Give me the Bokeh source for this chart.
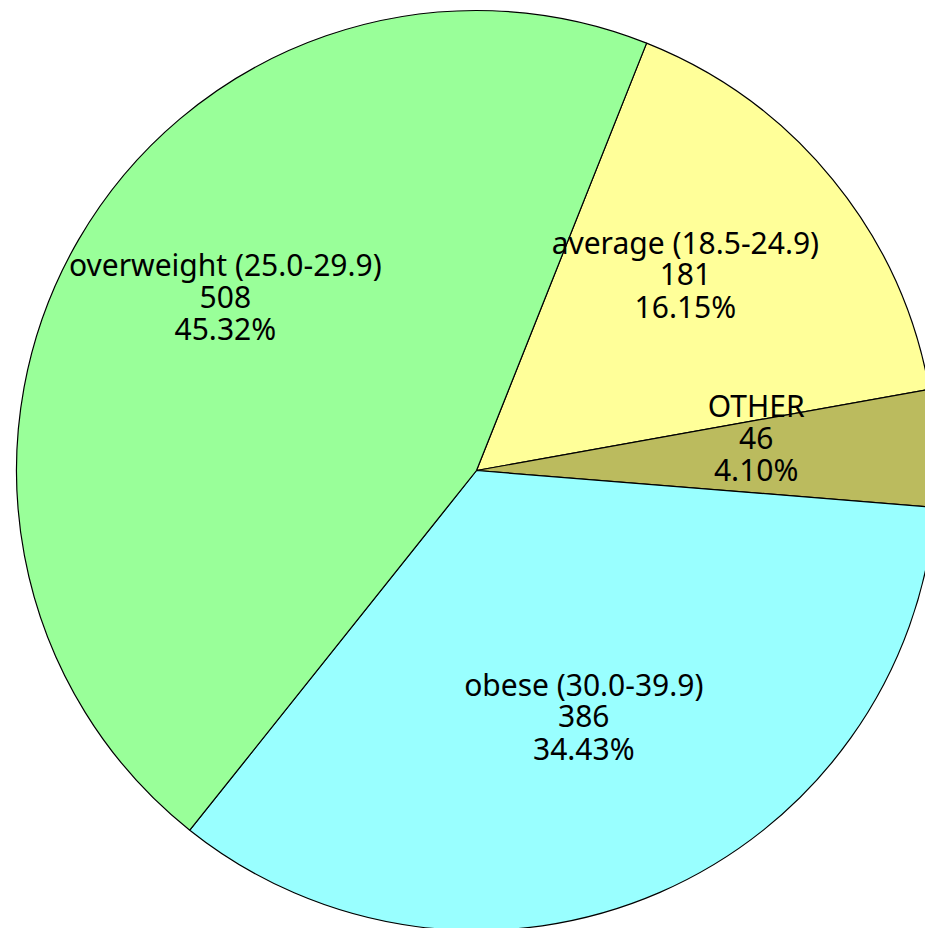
import math
from bokeh.plotting import figure
from bokeh.models import Range1d, ColumnDataSource
from bokeh.core.properties import value
from bokeh.embed import file_html
from bokeh.resources import INLINE

# ---- data ----
categories = ["average (18.5-24.9)", "OTHER", "obese (30.0-39.9)", "overweight (25.0-29.9)"]
counts = [181, 46, 386, 508]
colors = ["#FFFF99", "#BBBB5E", "#99FFFF", "#99FF99"]

# ---- layout / style ----
W, H = 925, 928
CX, CY = 476, H - 470          # pie centre in plot units (1 unit = 1 px)
R = 460
START_DEG = 68.3               # slices run clockwise from here
LABEL_R = 280
label_lift = [19, 19, 11, 33]  # per-slice vertical adjustment of label block (px)
label_shift = [-8, 0, -4, -9]  # per-slice horizontal adjustment of label block (px)
LINE_GAP = 32
FONT = "Noto Sans"
FONT_SIZE = "30px"

total = sum(counts)
starts, ends, mids = [], [], []
a = START_DEG
for c in counts:
    span = c / total * 360.0
    end = a
    start = a - span
    starts.append(math.radians(start))
    ends.append(math.radians(end))
    mids.append(math.radians((start + end) / 2))
    a = start

src = ColumnDataSource(dict(start=starts, end=ends, color=colors))

p = figure(width=W, height=H, output_backend="svg", toolbar_location=None,
           x_range=Range1d(0, W), y_range=Range1d(0, H), min_border=0)
p.axis.visible = False
p.grid.visible = False
p.outline_line_color = None
p.background_fill_color = "white"
p.border_fill_color = "white"

p.wedge(x=CX, y=CY, radius=R, start_angle="start", end_angle="end", source=src,
        fill_color="color", line_color="black", line_width=1.2)

xs, ys, txt = [], [], []
for cat, c, m, lift, shift in zip(categories, counts, mids, label_lift, label_shift):
    lx = CX + LABEL_R * math.cos(m) + shift
    ly = CY + LABEL_R * math.sin(m) + lift
    lines = [cat, str(c), f"{c / total * 100:.2f}%"]
    for i, t in enumerate(lines):
        xs.append(lx)
        ys.append(ly + LINE_GAP * (1 - i))
        txt.append(t)

p.text(x=xs, y=ys, text=txt, text_align="center", text_baseline="middle",
       text_font=value(FONT), text_font_size=FONT_SIZE, text_color="black")

open("out.html", "w").write(file_html(p, INLINE))
